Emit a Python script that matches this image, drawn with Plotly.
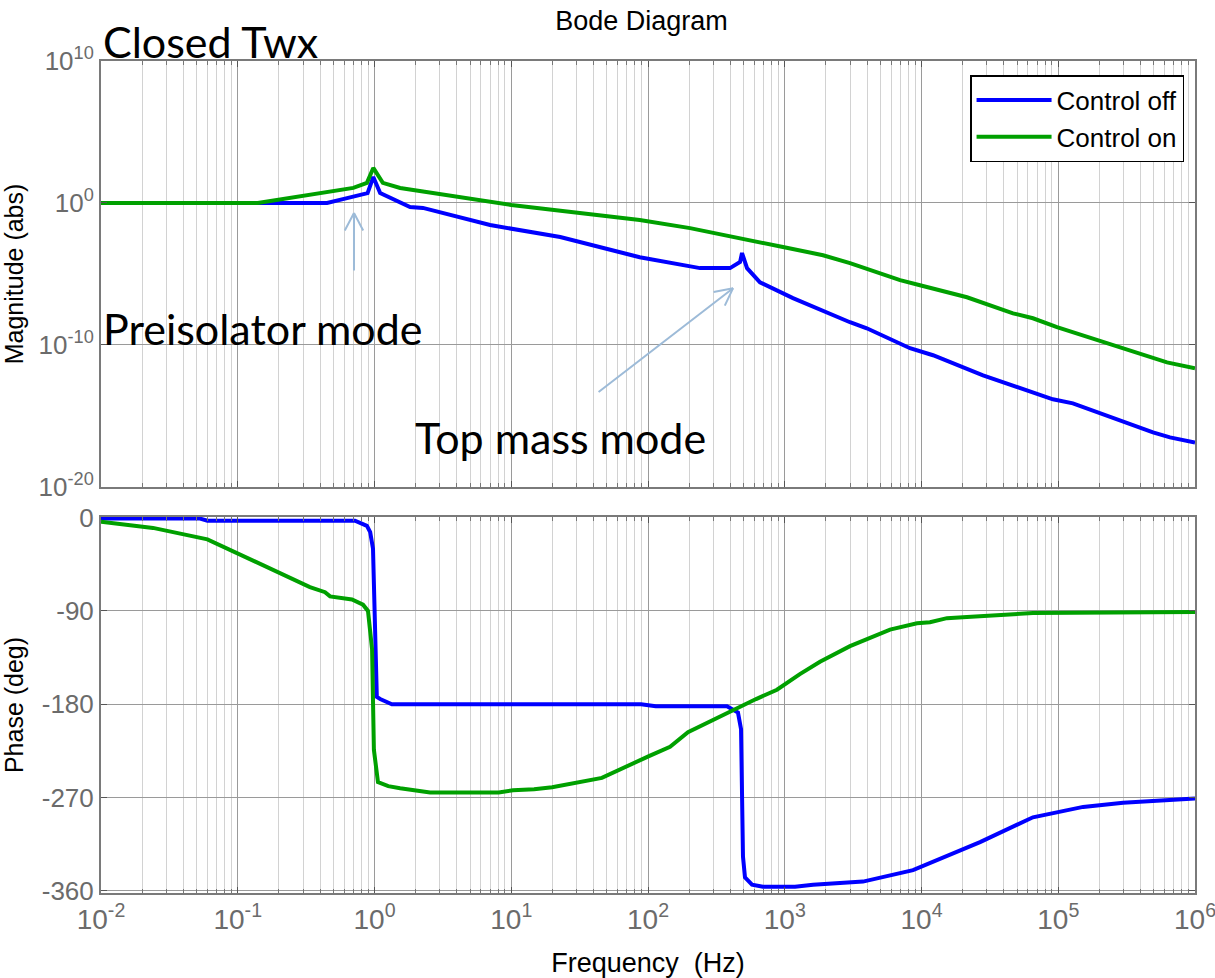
import math
import plotly.graph_objects as go

# ---- Magnitude response (frequency in Hz, magnitude in abs units) ----
freq_mag_off = [0.01, 0.45, 0.63, 0.89, 0.98, 1.10, 1.82, 2.26, 7.0, 10, 22.8, 87, 116,
                240, 398, 471, 487, 530, 659, 780, 877, 1148, 3000, 3980, 8240, 12140,
                28180, 42170, 91400, 1.28e5, 4.93e5, 6.56e5, 1e6]
mag_off = [1.0, 1.0, 2.2, 5.0, 68, 5.0, 0.52, 0.45, 0.028, 0.015, 4e-3, 1.5e-4, 9.5e-5,
           2.6e-5, 2.6e-5, 6.9e-5, 3.0e-4, 2.6e-5, 2.6e-6, 1.2e-6, 7.2e-7, 2.0e-7, 4.0e-9,
           1.5e-9, 5.9e-11, 1.9e-11, 7.2e-13, 2.0e-13, 1.5e-14, 7.8e-15, 6.9e-17, 3.1e-17,
           1.35e-17]

freq_mag_on = [0.01, 0.14, 0.70, 0.88, 0.98, 1.15, 1.54, 4.44, 7.0, 10, 87, 203, 970,
               1905, 3000, 6970, 9750, 21500, 46700, 65300, 97900, 2.83e5, 6.24e5, 1e6]
mag_on = [1.0, 1.0, 11.5, 26, 295, 26, 11.5, 2.2, 1.2, 0.72, 0.063, 0.017, 7.9e-4,
          2.1e-4, 5.9e-5, 3.7e-6, 1.6e-6, 2.3e-7, 1.7e-8, 7.6e-9, 1.8e-9, 6.9e-11,
          6.0e-12, 2.3e-12]

# ---- Phase response (deg) ----
freq_ph_off = [0.01, 0.053, 0.06, 0.72, 0.88, 0.93, 0.975, 1.01, 1.04, 1.10, 1.34, 89,
               114, 378, 455, 479, 495, 512, 576, 693, 1189, 1610, 3733, 8670, 26800,
               65300, 1.52e5, 2.98e5, 5.28e5, 1e6]
ph_off = [-1, -1, -3, -3, -8, -14, -30, -111, -173, -175, -180, -180, -182, -182, -188,
          -204, -327, -347, -354, -356, -356, -354, -351, -340, -313, -289, -279, -275,
          -273, -271]

freq_ph_on = [0.01, 0.024, 0.06, 0.285, 0.337, 0.435, 0.473, 0.684, 0.824, 0.896, 0.96,
              0.99, 1.06, 1.26, 1.54, 2.55, 8.1, 10.3, 14.7, 19.9, 46, 101.6, 145, 196,
              426, 617, 877, 1290, 1810, 3000, 5890, 9270, 11530, 15350, 21500, 37500,
              65300, 1e6]
ph_on = [-4, -10, -21, -62, -67, -72, -76, -79, -84, -90, -127, -224, -255, -259, -261,
         -265, -265, -263, -262, -260, -251, -230, -221, -207, -185, -175, -166, -151,
         -139, -124, -108, -102, -101, -97, -96, -94, -92, -91]

# ---- Axis ticks ----
x_decades = [-2, -1, 0, 1, 2, 3, 4, 5, 6]
mag_decades = [-20, -10, 0, 10]
phase_ticks = [0, -90, -180, -270, -360]

series_names = ["Control off", "Control on"]
series_colors = ["#0000ff", "#00a000"]

x_tickvals = [10.0 ** d for d in x_decades]
x_ticktext = [f"10<sup>{d}</sup>" for d in x_decades]
x_minor = [k * 10.0 ** d for d in x_decades[:-1] for k in range(2, 10)]
mag_tickvals = [10.0 ** d for d in mag_decades]
mag_ticktext = [f"10<sup>{d}</sup>" for d in mag_decades]
phase_ticktext = [str(v) for v in phase_ticks]

LINE_W = 4
GRID = "#9a9a9a"
MINOR_GRID = "#d2d2d2"
AXIS_LINE = "#7a7a7a"
SANS = "Liberation Sans, Arial, sans-serif"
TICK_FONT = dict(family=SANS, size=26, color="#6b6b6b")
LABEL_FONT = dict(family=SANS, size=25, color="black")
NOTE_FONT = dict(family="Lato, Noto Sans, sans-serif", size=43, color="black")

fig = go.Figure()

mag_data = [(freq_mag_off, mag_off), (freq_mag_on, mag_on)]
ph_data = [(freq_ph_off, ph_off), (freq_ph_on, ph_on)]
for name, color, (fm, m), (fp, p) in zip(series_names, series_colors, mag_data, ph_data):
    fig.add_trace(go.Scatter(x=fm, y=m, mode="lines", name=name,
                             line=dict(color=color, width=LINE_W),
                             xaxis="x", yaxis="y"))
    fig.add_trace(go.Scatter(x=fp, y=p, mode="lines", name=name, showlegend=False,
                             line=dict(color=color, width=LINE_W),
                             xaxis="x2", yaxis="y2"))

common_x = dict(
    type="log", range=[-2, 6], tickmode="array", tickvals=x_tickvals,
    showgrid=True, gridcolor=GRID, gridwidth=1,
    showline=True, linecolor=AXIS_LINE, linewidth=2, mirror="allticks",
    ticks="inside", ticklen=6, tickcolor="#555",
    minor=dict(tickmode="array", tickvals=x_minor, showgrid=True,
               gridcolor=MINOR_GRID, gridwidth=1, ticks="inside", ticklen=4,
               tickcolor="#777"),
    zeroline=False, automargin=False, ticklabeloverflow="allow",
)
common_y = dict(
    tickmode="array", tickfont=TICK_FONT, showgrid=True, gridcolor=GRID,
    showline=True, linecolor=AXIS_LINE, linewidth=2, mirror="allticks",
    ticks="inside", ticklen=6, tickcolor="#555", zeroline=False,
    automargin=False, ticklabeloverflow="allow",
)

fig.update_layout(
    width=1215, height=978,
    margin=dict(l=101, r=20, t=61, b=85, autoexpand=False),
    paper_bgcolor="white", plot_bgcolor="white",
    title=dict(text="Bode Diagram", x=0.528, xanchor="center", y=1 - 21 / 978,
               yanchor="middle", yref="container", automargin=False,
               font=dict(family=SANS, size=27, color="black")),
    xaxis=dict(common_x, domain=[0, 1], anchor="y", showticklabels=False,
               matches="x2"),
    xaxis2=dict(common_x, domain=[0, 1], anchor="y2", ticktext=x_ticktext,
                tickfont=dict(TICK_FONT, size=28),
                title=dict(text="Frequency  (Hz)", font=dict(LABEL_FONT, size=27),
                           standoff=33)),
    yaxis=dict(common_y, type="log", range=[-20, 10], domain=[0.488, 1], anchor="x",
               tickvals=mag_tickvals, ticktext=mag_ticktext,
               title=dict(text="Magnitude (abs)", font=LABEL_FONT, standoff=14)),
    yaxis2=dict(common_y, range=[-362, 0.5], domain=[0, 0.4519], anchor="x2",
                tickvals=phase_ticks, ticktext=phase_ticktext,
                title=dict(text="Phase (deg)", font=LABEL_FONT, standoff=24)),
    legend=dict(x=0.990, y=0.983, xanchor="right", yanchor="top",
                bgcolor="white", bordercolor="black", borderwidth=1.5,
                font=dict(family=SANS, size=26, color="black"),
                itemwidth=75, tracegroupgap=4),
    showlegend=True,
)

ARROW = "#9dbbd8"

# text labels
fig.add_annotation(text="Closed Twx", xref="paper", yref="paper", x=0.0, y=1.024,
                   xanchor="left", yanchor="middle", showarrow=False, font=NOTE_FONT)
fig.add_annotation(text="Preisolator mode", xref="paper", yref="paper", x=0.0, y=0.679,
                   xanchor="left", yanchor="middle", showarrow=False, font=NOTE_FONT)
fig.add_annotation(text="Top mass mode", xref="paper", yref="paper", x=0.285, y=0.548,
                   xanchor="left", yanchor="middle", showarrow=False, font=NOTE_FONT)


def open_arrow(freq, log_mag, tail, barbs):
    """Shaft plus two barbs, all meeting at the tip on the magnitude axes."""
    for ax, ay in [tail] + barbs:
        fig.add_annotation(x=math.log10(freq), y=log_mag, xref="x", yref="y",
                           ax=ax, ay=ay, axref="pixel", ayref="pixel", text="",
                           showarrow=True, arrowhead=0, arrowwidth=2,
                           arrowcolor=ARROW, standoff=0)


# arrows point at the two resonances
open_arrow(0.708, -0.7, (0, 59), [(-10, 19), (10, 19)])
open_arrow(419, -6.0, (-136, 105), [(-21, 4), (-9, 19)])

fig.write_html("out.html")
